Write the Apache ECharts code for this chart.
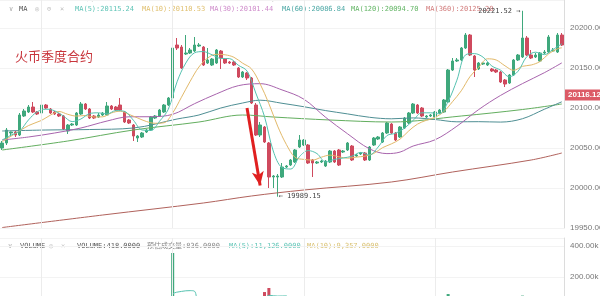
<!DOCTYPE html>
<html><head><meta charset="utf-8">
<script src="https://cdn.jsdelivr.net/npm/echarts@6/dist/echarts.min.js"></script>
<style>html,body{margin:0;padding:0;background:#fff}#c{width:600px;height:296px}</style>
</head><body><div id="c"></div>
<script>
// [open, close, low, high]
const candles = [
[20050,20056.25,20047.5,20058.75],[20056.25,20072.5,20053.75,20075],[20068.75,20070,20065,20070.5],[20070,20066.25,20063.75,20071.25],
[20066.25,20091.25,20065,20093.75],[20090,20096.25,20088.75,20098.75],[20095,20101.25,20093.75,20103.75],[20101.25,20095,20093.75,20107.5],
[20095,20092.5,20091.25,20096.25],[20093.75,20103.75,20092.5,20106.25],[20103.75,20100,20098.75,20105],[20098.75,20093.75,20092.5,20100],
[20095,20092.5,20091.25,20096.25],[20092.5,20090,20088.75,20093.75],[20090,20073.75,20072.5,20091.25],[20071.25,20078.75,20067.5,20080],
[20078.75,20080,20077.5,20081.25],[20078.75,20093.75,20077.5,20095],[20092.5,20105,20091.25,20107.5],[20105,20098.75,20097.5,20106.25],
[20098.75,20087.5,20086.25,20100],[20090,20087.5,20086.25,20091.25],[20088.75,20091.25,20087.5,20093.75],[20091.25,20093.75,20090,20095],
[20091.25,20102.5,20090,20107.5],[20102.5,20098.75,20097.5,20103.75],[20101.25,20097.5,20096.25,20102.5],[20103.75,20097.5,20096.25,20112.5],
[20095,20082.5,20081.25,20096.25],[20085,20081.25,20080,20086.25],[20078.75,20065,20058.75,20080],[20062.5,20065,20057.5,20066.25],
[20063.75,20068.75,20062.5,20070],[20070,20072.5,20068.75,20073.75],[20072.5,20088.75,20071.25,20090],[20087.5,20090,20086.25,20091.25],
[20090,20097.5,20088.75,20098.75],[20095,20103.75,20093.75,20105],[20103.75,20112.5,20102.5,20113.75],[20112.5,20175,20111.25,20190],
[20178.75,20175,20172.5,20187.5],[20176.25,20150,20148.75,20178.75],[20167.5,20168.75,20166.25,20191.25],[20168.75,20172.5,20167.5,20175],
[20171.25,20178.75,20170,20188.75],[20177.5,20178.75,20176.25,20181.25],[20176.25,20153.75,20152.5,20177.5],[20156.25,20160,20155,20175],
[20153.75,20161.25,20152.5,20162.5],[20156.25,20172.5,20155,20173.75],[20171.25,20162.5,20148.75,20172.5],[20161.25,20156.25,20155,20162.5],
[20157.5,20156.25,20155,20158.75],[20157.5,20153.75,20152.5,20158.75],[20150,20138.75,20137.5,20151.25],[20138.75,20145,20137.5,20146.25],
[20143.75,20137.5,20135,20145],[20137.5,20106.25,20105,20138.75],[20103.75,20066.25,20065,20106.25],[20066.25,20078.75,20063.75,20082.5],
[20076.25,20057.5,20056.25,20077.5],[20056.25,20013.75,20000,20057.5],[20013.75,20015,20000,20016.25],[20013.75,20015,19989.15,20017.5],
[20013.75,20026.25,20012.5,20031.25],[20026.25,20027.5,20025,20028.75],[20028.75,20035,20027.5,20036.25],[20032.5,20047.5,20031.25,20048.75],
[20051.25,20060,20050,20066.25],[20053.75,20060,20052.5,20061.25],[20053.75,20031.25,20030,20055],[20035,20031.25,20013.75,20036.25],
[20031.25,20032.5,20030,20033.75],[20032.5,20033.75,20031.25,20035],[20027.5,20033.75,20026.25,20035],[20032.5,20046.25,20031.25,20047.5],
[20046.25,20032.5,20031.25,20047.5],[20047.5,20028.75,20027.5,20048.75],[20045,20046.25,20043.75,20047.5],[20047.5,20056.25,20046.25,20057.5],
[20052.5,20035,20033.75,20053.75],[20040,20041.25,20038.75,20042.5],[20042.5,20043.75,20041.25,20045],[20043.75,20035,20033.75,20045],
[20035,20051.25,20033.75,20052.5],[20053.75,20062.5,20052.5,20063.75],[20061.25,20063.75,20060,20065],[20057.5,20068.75,20056.25,20070],
[20068.75,20081.25,20067.5,20082.5],[20080,20068.75,20067.5,20081.25],[20068.75,20060,20058.75,20070],[20063.75,20076.25,20062.5,20077.5],
[20075,20087.5,20073.75,20088.75],[20081.25,20093.75,20080,20095],[20093.75,20105,20092.5,20106.25],[20103.75,20093.75,20092.5,20105],
[20100,20090,20088.75,20101.25],[20088.75,20090,20087.5,20091.25],[20090,20091.25,20088.75,20092.5],[20088.75,20095,20087.5,20096.25],
[20093.75,20097.5,20092.5,20098.75],[20095,20110,20093.75,20111.25],[20107.5,20147.5,20106.25,20148.75],[20147.5,20158.75,20146.25,20162.5],
[20158.75,20160,20157.5,20162.5],[20160,20175,20158.75,20176.25],[20175,20191.25,20173.75,20193.75],[20191.25,20166.25,20165,20192.5],
[20165,20147.5,20138.75,20166.25],[20148.75,20156.25,20147.5,20157.5],[20155,20156.25,20153.75,20157.5],[20153.75,20156.25,20152.5,20157.5],
[20148.75,20146.25,20145,20150],[20147.5,20145,20143.75,20148.75],[20145,20132.5,20131.25,20146.25],[20135,20130,20126.25,20136.25],
[20131.25,20141.25,20130,20142.5],[20141.25,20160,20140,20161.25],[20160,20166.25,20158.75,20167.5],[20163.75,20187.5,20162.5,20221.52],
[20187.5,20166.25,20165,20190],[20166.25,20162.5,20161.25,20172.5],[20163.75,20166.25,20162.5,20168.75],[20158.75,20168.75,20157.5,20170],
[20168.75,20170,20167.5,20172.5],[20170,20188.75,20168.75,20191.25],[20171.25,20172.5,20170,20175],[20170,20191.25,20168.75,20193.75],
[20191.25,20178.75,20177.5,20193.75]
];
const volumes = [
32000,45000,18000,15000,52000,28000,30000,26000,14000,30000,
22000,24000,15000,14000,40000,28000,12000,36000,38000,24000,
30000,14000,12000,12000,34000,18000,14000,26000,30000,16000,
45000,20000,18000,14000,42000,16000,24000,26000,30000,355000,
60000,65000,48000,30000,40000,22000,50000,35000,26000,38000,
32000,20000,14000,16000,30000,22000,20000,66000,70000,40000,
103000,129000,55000,60000,42000,16000,28000,38000,40000,22000,
44000,30000,12000,10000,18000,30000,32000,34000,14000,24000,
36000,12000,10000,20000,32000,30000,12000,28000,34000,30000,
26000,30000,34000,30000,32000,26000,22000,10000,10000,16000,
14000,36000,90000,40000,20000,44000,60000,66000,50000,24000,
12000,14000,16000,12000,30000,20000,22000,40000,22000,80000,
60000,24000,18000,26000,10000,48000,14000,46000,30000
];
// moving-average lines: [candle index, value]
const ma5 = [[0,20060],[2,20066],[4,20071.25],[6,20085],[8,20095.25],[10,20098.5],[12,20096.5],[14,20090],[16,20083],[18,20086.25],[20,20093],[22,20094],[24,20092.5],[26,20096.75],[28,20095.75],[30,20084.75],[32,20072.5],[34,20072],[36,20083.5],[38,20098.5],[40,20132.75],[42,20156.25],[44,20169],[46,20170.5],[48,20166.5],[50,20162],[52,20161.75],[54,20153.5],[56,20146.25],[58,20118.75],[60,20089.25],[62,20046.25],[64,20025.5],[66,20023.75],[68,20039.25],[70,20046.75],[72,20043],[74,20032.5],[76,20035.75],[78,20037.5],[80,20039.75],[82,20044.5],[84,20041.25],[86,20051.25],[88,20065.5],[90,20068.5],[92,20074.75],[94,20084.5],[96,20094],[98,20094],[100,20092.75],[102,20108.25],[104,20134.75],[106,20166.5],[108,20168],[110,20163.5],[112,20152.5],[114,20147.25],[116,20139],[118,20146],[120,20164.25],[122,20169.75],[124,20166.75],[126,20173.25],[128,20180.25]];
const ma10 = [[0,20058],[3,20068],[6,20078],[9,20084.5],[11,20091],[13,20095.6],[15,20092.1],[17,20089.9],[19,20090.6],[21,20088.75],[23,20089],[25,20093.9],[27,20096],[29,20092],[31,20087.5],[33,20083.1],[35,20080.9],[37,20081.5],[39,20093.9],[41,20113.4],[43,20133.4],[45,20151.25],[47,20162.5],[49,20167.1],[51,20166.5],[53,20163.4],[55,20156],[57,20149],[59,20130.1],[61,20105.4],[63,20077.4],[65,20054.4],[67,20038.25],[69,20035.75],[71,20034.9],[73,20038.5],[75,20041.1],[77,20039],[79,20037.25],[81,20038.6],[83,20039.9],[85,20043.25],[87,20050.4],[89,20055.1],[91,20061.1],[93,20071.4],[95,20079.9],[97,20084.6],[99,20088.25],[101,20095.4],[103,20107.9],[105,20121.5],[107,20139.25],[109,20151],[111,20161.5],[113,20160],[115,20152.75],[117,20147.1],[119,20152.1],[121,20153.75],[123,20158.1],[125,20167.75],[127,20174],[128,20175.25]];
const ma30 = [[0,20060],[6,20063.75],[12,20068.75],[18,20075],[24,20083.75],[29,20089],[34,20089.1],[39,20092.1],[44,20105.4],[49,20117.6],[54,20127.9],[59,20130.4],[64,20122.6],[69,20111],[74,20088.25],[79,20067.75],[84,20049],[88,20043],[91,20044.9],[94,20052.5],[99,20060.25],[104,20077.25],[109,20098.1],[114,20115.75],[119,20130.5],[124,20144.1],[128,20156.4]];
const ma60 = [[0,20071.25],[10,20072.5],[20,20073.1],[30,20075],[40,20086.25],[45,20091.25],[50,20100],[55,20106.25],[59,20109.75],[64,20105.9],[69,20101.6],[74,20096.75],[79,20092.6],[84,20088.4],[89,20086.5],[94,20087.6],[99,20085.6],[104,20082.75],[109,20082.9],[114,20082.4],[119,20086.6],[124,20098.4],[128,20107.75]];
const ma120 = [[0,20047.5],[15,20058.75],[30,20072.5],[45,20082.5],[55,20091.25],[62,20088.75],[75,20085],[89,20082.5],[105,20090],[119,20098.1],[128,20105]];
const ma360 = [[0,19950.6],[23,19966.25],[46,19981.25],[57,19990],[69,19997.5],[89,20007.5],[103,20020],[121,20035],[128,20043.75]];
const volMa5 = [[0,30000],[10,27000],[20,30000],[30,28000],[38,24000],[39,90000],[41,107000],[43,112000],[44,108000],[45,41000],[50,36000],[55,24000],[58,40000],[60,59000],[61,82000],[62,79000],[63,77000],[65,78000],[66,40000],[70,34000],[80,27000],[90,30000],[100,14000],[102,32000],[105,44000],[107,56000],[110,42000],[115,18000],[119,38000],[121,40000],[125,25000],[128,33000]];
const highPoint = [119, 20221.52];
const lowPoint = [63, 19989.15];
const lastPrice = 20116.12;
const priceAxis = {min: 19950, max: 20235, step: 50};
const volAxis = {min: 0, max: 451613, step: 200000};
const vGridIdx = [9, 39, 69, 99];
const arrowFrom = [56, 20100];
const arrowTo = [59, 20003];

const categories = candles.map((_, i) => String(i + 1));
const UP = '#3fa87c', DOWN = '#cf4a5e';
const MONO = "'DejaVu Sans Mono','Noto Sans CJK SC',monospace";

const chart = echarts.init(document.getElementById('c'), null, {renderer: 'canvas'});
function maLine(name, data, color, grid) {
  return {name, type: 'line', data, xAxisIndex: grid, yAxisIndex: grid, showSymbol: false, smooth: 0.35,
    connectNulls: true, lineStyle: {width: 1, color}, itemStyle: {color}, silent: true, z: 3};
}
const vgridLine = {silent: true, symbol: 'none', label: {show: false},
  lineStyle: {color: '#ececec', width: 1, type: 'solid'}, data: vGridIdx.map(i => ({xAxis: i}))};

function txt(x, y, text, fill, size, family) {
  return {type: 'text', x, y, silent: true, style: {text, fill, font: (size || 7) + 'px ' + (family || MONO), textVerticalAlign: 'middle'}};
}

chart.setOption({
  animation: false,
  backgroundColor: '#fff',
  grid: [
    {left: 0, right: 36, top: 0, height: 228, containLabel: false, outerBoundsMode: 'none'},
    {left: 0, right: 36, top: 238, height: 70, containLabel: false, outerBoundsMode: 'none'}
  ],
  xAxis: [
    {type: 'category', data: categories, gridIndex: 0, axisLine: {show: false}, axisTick: {show: false}, axisLabel: {show: false}, splitLine: {show: false}},
    {type: 'category', data: categories, gridIndex: 1, position: 'top', axisLine: {show: true, lineStyle: {color: '#e3e3e3'}}, axisTick: {show: false}, axisLabel: {show: false}, splitLine: {show: false}}
  ],
  yAxis: [
    {type: 'value', gridIndex: 0, position: 'right', min: priceAxis.min, max: priceAxis.max, interval: priceAxis.step,
      axisLine: {show: true, lineStyle: {color: '#dcdcdc'}}, axisTick: {show: false},
      axisLabel: {color: '#777', fontSize: 8, margin: 6, fontFamily: 'Liberation Sans', showMaxLabel: false, formatter: v => v.toFixed(2)},
      splitLine: {show: true, lineStyle: {color: '#f3f3f3'}}},
    {type: 'value', gridIndex: 1, position: 'right', min: volAxis.min, max: volAxis.max, interval: volAxis.step,
      axisLine: {show: true, lineStyle: {color: '#dcdcdc'}}, axisTick: {show: false},
      axisLabel: {color: '#777', fontSize: 8, margin: 6, fontFamily: 'Liberation Sans', showMaxLabel: false, formatter: v => (v / 1000).toFixed(2) + 'k'},
      splitLine: {show: true, lineStyle: {color: '#f3f3f3'}}}
  ],
  series: [
    {type: 'candlestick', data: candles, xAxisIndex: 0, yAxisIndex: 0, barWidth: 3,
      itemStyle: {color: UP, color0: DOWN, borderColor: UP, borderColor0: DOWN, borderWidth: 1},
      markLine: {silent: true, symbol: 'none', animation: false, data: [
        ...vGridIdx.map(i => ({xAxis: i, lineStyle: {color: '#ececec', width: 1, type: 'solid'}, label: {show: false}})),
        [{coord: arrowFrom, symbol: 'none'}, {coord: arrowTo, symbol: 'arrow', symbolSize: [9, 14],
          lineStyle: {color: '#e02020', width: 3, type: 'solid'}, label: {show: false}}]
      ]},
      markPoint: {silent: true, symbolSize: 0, data: [
        {coord: highPoint, label: {show: true, position: 'left', distance: 2, formatter: highPoint[1].toFixed(2) + ' →', color: '#444', fontSize: 7, fontFamily: MONO}},
        {coord: lowPoint, label: {show: true, position: 'right', distance: 1, formatter: '← ' + lowPoint[1].toFixed(2), color: '#444', fontSize: 7, fontFamily: MONO}}
      ]}
    },
    {type: 'line', data: [], xAxisIndex: 0, yAxisIndex: 0, silent: true,
      markLine: {silent: true, symbol: 'none', animation: false, data: [
        {yAxis: lastPrice, lineStyle: {color: 'rgba(0,0,0,0)', width: 0}, label: {show: true, position: 'end', distance: 1, formatter: lastPrice.toFixed(2),
          color: '#fff', backgroundColor: '#dc5a66', padding: [2, 3, 1, 3], fontSize: 8, fontFamily: 'Liberation Sans', fontWeight: 'bold'}}
      ]}},
    maLine('MA360', ma360, '#b0625c', 0),
    maLine('MA120', ma120, '#63ae5f', 0),
    maLine('MA60', ma60, '#4f8f94', 0),
    maLine('MA30', ma30, '#a864ad', 0),
    maLine('MA10', ma10, '#e2b96a', 0),
    maLine('MA5', ma5, '#56c2b0', 0),
    {type: 'bar', data: volumes.map((v, i) => ({value: v, itemStyle: {color: candles[i][1] >= candles[i][0] ? UP : DOWN}})),
      xAxisIndex: 1, yAxisIndex: 1, barWidth: 3,
      markLine: vgridLine},
    maLine('VMA5', volMa5, '#56c2b0', 1)
  ],
  graphic: [
    txt(0, -2, '2020/03/13 15:00  开:20115.24  高:20118.53  低:20110.12  收:20116.12', '#333', 8),
    txt(9, 9, '∨', '#aaa', 7),
    txt(19, 9, 'MA', '#555', 7),
    txt(35, 9, '◎', '#bbb', 7),
    txt(47, 9, '⊙', '#bbb', 7),
    txt(60, 9, '×', '#bbb', 7),
    txt(75, 9, 'MA(5):20115.24', '#5ec4b6', 7),
    txt(142, 9, 'MA(10):20110.53', '#e0c070', 7),
    txt(210, 9, 'MA(30):20101.44', '#cf8ccb', 7),
    txt(282, 9, 'MA(60):20086.84', '#4aa7a4', 7),
    txt(351, 9, 'MA(120):20094.70', '#63b565', 7),
    txt(426, 9, 'MA(360):20125.20', '#d27c7c', 7),
    txt(15, 56, '火币季度合约', '#c8353c', 13, "'Noto Sans CJK SC'"),
    txt(8, 246, '∨', '#aaa', 7),
    txt(20, 246, 'VOLUME', '#555', 7),
    txt(49, 246, '◎', '#bbb', 7),
    txt(61, 246, '×', '#bbb', 7),
    txt(77, 246, 'VOLUME:418.0000', '#555', 7),
    txt(147, 246, '预估成交量:836.0000', '#888', 7),
    txt(229, 246, 'MA(5):11,126.0000', '#5ec4b6', 7),
    txt(307, 246, 'MA(10):9,357.0000', '#d9c070', 7)
  ]
});
</script></body></html>
